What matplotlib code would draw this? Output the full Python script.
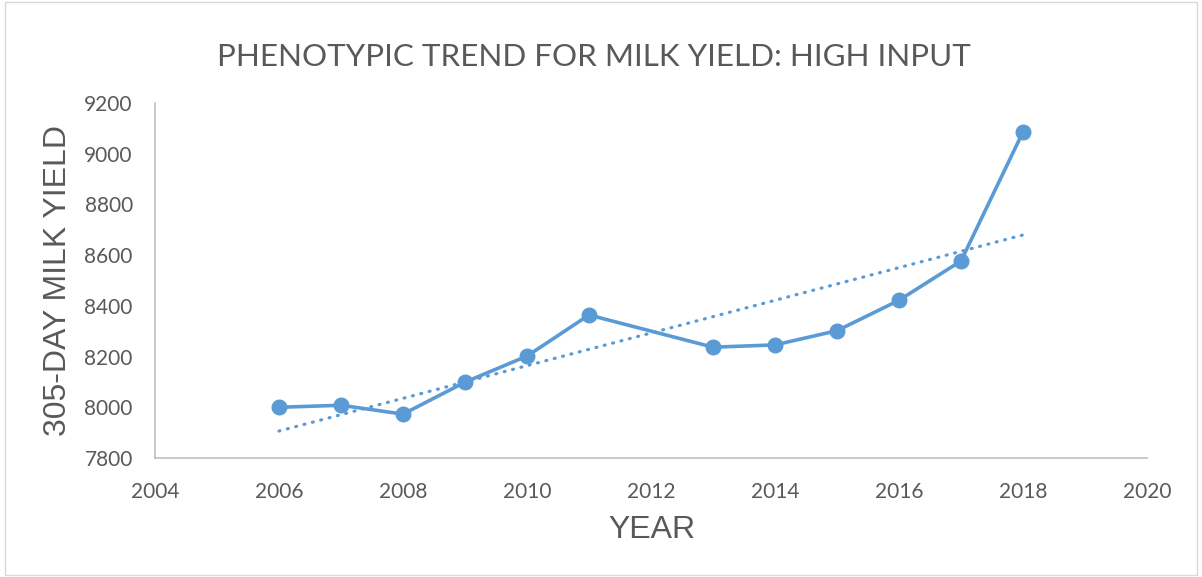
import matplotlib
matplotlib.use("Agg")
import matplotlib.pyplot as plt
from matplotlib.patches import Rectangle
import numpy as np

years = [2006, 2007, 2008, 2009, 2010, 2011, 2013, 2014, 2015, 2016, 2017, 2018]
milk_yield = [8000, 8008, 7973, 8099, 8202, 8364, 8237, 8246, 8302, 8422, 8577, 9086]
xticks = [2004, 2006, 2008, 2010, 2012, 2014, 2016, 2018, 2020]
yticks = [7800, 8000, 8200, 8400, 8600, 8800, 9000, 9200]

title = "PHENOTYPIC TREND FOR MILK YIELD: HIGH INPUT"
xlabel = "YEAR"
ylabel = "305-DAY MILK YIELD"

color = "#5B9BD5"
text_color = "#595959"

fig = plt.figure(figsize=(12.02, 5.77), dpi=100)
ax = fig.add_axes([155/1202, 1 - 458/577, (1147-155)/1202, (458-103)/577])

ax.plot(years, milk_yield, color=color, lw=2.6, marker="o", markersize=10.5, zorder=3)

coef = np.polyfit(years, milk_yield, 1)
tx = np.array([years[0], years[-1]])
ax.plot(tx, np.polyval(coef, tx), color=color, lw=2.3, linestyle=(0, (0.3, 2.4)),
        dash_capstyle="round", zorder=2)

ax.set_xlim(2004, 2020)
ax.set_ylim(7800, 9200)
ax.set_xticks(xticks)
ax.set_yticks(yticks)
ax.tick_params(length=0, labelsize=15, labelcolor=text_color)
ax.tick_params(axis="x", pad=17)
ax.tick_params(axis="y", pad=16)
for lab in ax.get_xticklabels() + ax.get_yticklabels():
    lab.set_family("Lato")

for s in ["top", "right"]:
    ax.spines[s].set_visible(False)
for s in ["left", "bottom"]:
    ax.spines[s].set_color("#BFBFBF")
    ax.spines[s].set_linewidth(1.2)

fig.text(594/1202, 1 - 57/577, title, ha="center", va="center", fontsize=22.6,
         color=text_color, family="Lato")
fig.text(652/1202, 1 - 530/577, xlabel, ha="center", va="center", fontsize=23,
         color=text_color, family="Liberation Sans")
fig.text(58/1202, 1 - 280/577, ylabel, ha="center", va="center", fontsize=23,
         color=text_color, family="Liberation Sans", rotation=90)

fig.patches.append(Rectangle((5/1202, 2/577), 1192/1202, 573/577, transform=fig.transFigure,
                             fill=False, edgecolor="#D9D9D9", lw=1))

fig.savefig("out.png", dpi=100)
